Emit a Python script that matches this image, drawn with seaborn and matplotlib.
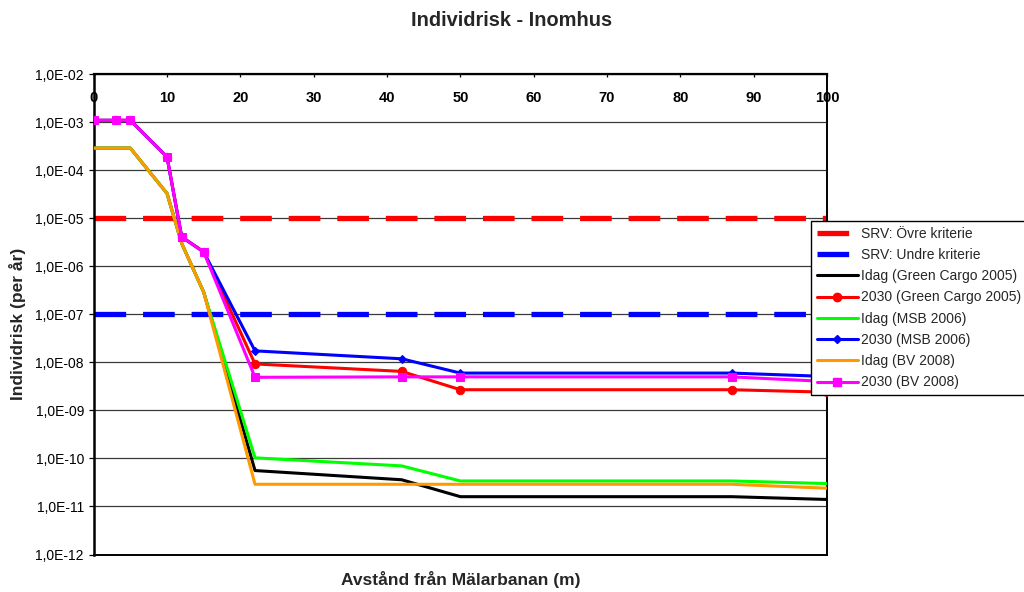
import numpy as np
import pandas as pd
import matplotlib
matplotlib.use("Agg")
import matplotlib.pyplot as plt
from matplotlib.lines import Line2D
from matplotlib.ticker import FixedLocator, FuncFormatter, NullLocator
import seaborn as sns

# ---- data ----
distance = [0, 3, 5, 10, 12, 15, 22, 42, 50, 87, 100]
idag_gc = [2.9e-4, 2.9e-4, 2.9e-4, 3.3e-5, 3.0e-6, 2.9e-7, 5.6e-11, 3.6e-11, 1.6e-11, 1.6e-11, 1.4e-11]
y2030_gc = [1.1e-3, 1.1e-3, 1.1e-3, 1.9e-4, 4.1e-6, 2.0e-6, 9.3e-9, 6.5e-9, 2.7e-9, 2.7e-9, 2.4e-9]
idag_msb = [2.9e-4, 2.9e-4, 2.9e-4, 3.3e-5, 3.0e-6, 2.9e-7, 1.03e-10, 7.0e-11, 3.4e-11, 3.4e-11, 3.0e-11]
y2030_msb = [1.1e-3, 1.1e-3, 1.1e-3, 1.9e-4, 4.1e-6, 2.0e-6, 1.74e-8, 1.19e-8, 6.0e-9, 6.0e-9, 5.1e-9]
idag_bv = [2.9e-4, 2.9e-4, 2.9e-4, 3.3e-5, 3.0e-6, 2.9e-7, 2.9e-11, 2.9e-11, 2.9e-11, 2.9e-11, 2.4e-11]
y2030_bv = [1.1e-3, 1.1e-3, 1.1e-3, 1.9e-4, 4.1e-6, 2.0e-6, 4.9e-9, 5.0e-9, 5.0e-9, 5.0e-9, 4.0e-9]

criteria_labels = ["SRV: Övre kriterie", "SRV: Undre kriterie"]
criteria_values = [1e-5, 1e-7]
criteria_colors = ["#FF0000", "#0000FF"]

series_labels = ["Idag (Green Cargo 2005)", "2030 (Green Cargo 2005)",
                 "Idag (MSB 2006)", "2030 (MSB 2006)",
                 "Idag (BV 2008)", "2030 (BV 2008)"]
series_values = [idag_gc, y2030_gc, idag_msb, y2030_msb, idag_bv, y2030_bv]
series_colors = ["#000000", "#FF0000", "#00FF00", "#0000FF", "#FF9900", "#FF00FF"]
series_markers = [None, "o", None, "D", None, "s"]
series_msize = [0, 6, 0, 4, 0, 6]

y_ticks = [1e-2, 1e-3, 1e-4, 1e-5, 1e-6, 1e-7, 1e-8, 1e-9, 1e-10, 1e-11, 1e-12]
x_ticks = [0, 10, 20, 30, 40, 50, 60, 70, 80, 90, 100]

sns.set_theme(style="white")
plt.rcParams["font.family"] = ["Liberation Sans", "DejaVu Sans"]

fig = plt.figure(figsize=(10.24, 5.92), dpi=100)
ax = fig.add_axes([93.7 / 1024, 1 - 554.5 / 592, (827 - 93.7) / 1024, (554.5 - 74.3) / 592])

# criteria lines
crit_handles = []
for lab, val, col in zip(criteria_labels, criteria_values, criteria_colors):
    ax.axhline(val, color=col, lw=3.8, dashes=(6, 3.2), zorder=2)
    crit_handles.append(Line2D([], [], color=col, lw=3.8, dashes=(6, 3.2), label=lab))

ser_handles = []
for lab, vals, col, mk, ms in zip(series_labels, series_values, series_colors, series_markers, series_msize):
    df = pd.DataFrame({"x": distance, "y": vals})
    kw = {}
    if mk is not None:
        kw = dict(marker=mk, markersize=ms, markeredgecolor=col, markerfacecolor=col)
    sns.lineplot(data=df, x="x", y="y", ax=ax, color=col, lw=2.2, zorder=3, legend=False, **kw)
    ser_handles.append(Line2D([], [], color=col, lw=2.2, label=lab, **kw))

ax.set_yscale("log")
ax.set_xlim(0, 100)
ax.set_ylim(1e-12, 1e-2)
ax.yaxis.set_major_locator(FixedLocator(y_ticks))
ax.yaxis.set_minor_locator(NullLocator())
ax.yaxis.set_major_formatter(FuncFormatter(lambda v, p: "1,0E-%02d" % int(round(-np.log10(v)))))
ax.xaxis.set_major_locator(FixedLocator(x_ticks))

ax.grid(axis="y", color="#3a3a3a", lw=0.9)
ax.grid(axis="x", visible=False)
for s in ax.spines.values():
    s.set_color("black")
    s.set_linewidth(1.4)
ax.spines["top"].set_linewidth(1.6)
ax.spines["left"].set_linewidth(1.8)

ax.tick_params(axis="y", which="major", left=True, direction="out", length=3.5, width=0.9,
               pad=3.5, labelsize=10, colors="black")
ax.tick_params(axis="x", which="major", bottom=False, top=True, labelbottom=False, labeltop=True,
               direction="in", length=2.5, width=0.9, pad=-22, labelsize=10.5, colors="black")
for t in ax.get_xticklabels():
    t.set_fontweight("bold")

ax.set_xlabel("Avstånd från Mälarbanan (m)", fontsize=12.5, fontweight="bold", labelpad=12)
ax.xaxis.set_label_position("bottom")
ax.set_ylabel("Individrisk (per år)", fontsize=12.5, fontweight="bold", labelpad=5)
ax.yaxis.set_label_coords(-0.092, 0.48)

fig.text(0.5, 1 - 21 / 592, "Individrisk - Inomhus", ha="center", va="center",
         fontsize=14.4, fontweight="bold")

leg = fig.legend(handles=crit_handles + ser_handles, loc="upper left",
                 bbox_to_anchor=(810.7 / 1024, 1 - 221 / 592), borderaxespad=0,
                 fontsize=10, handlelength=3.0, handletextpad=0.2, labelspacing=0.52,
                 borderpad=0.42, frameon=True, fancybox=False, framealpha=1)
leg.get_frame().set_edgecolor("black")
leg.get_frame().set_linewidth(1.0)

fig.savefig("out.png", dpi=100)
